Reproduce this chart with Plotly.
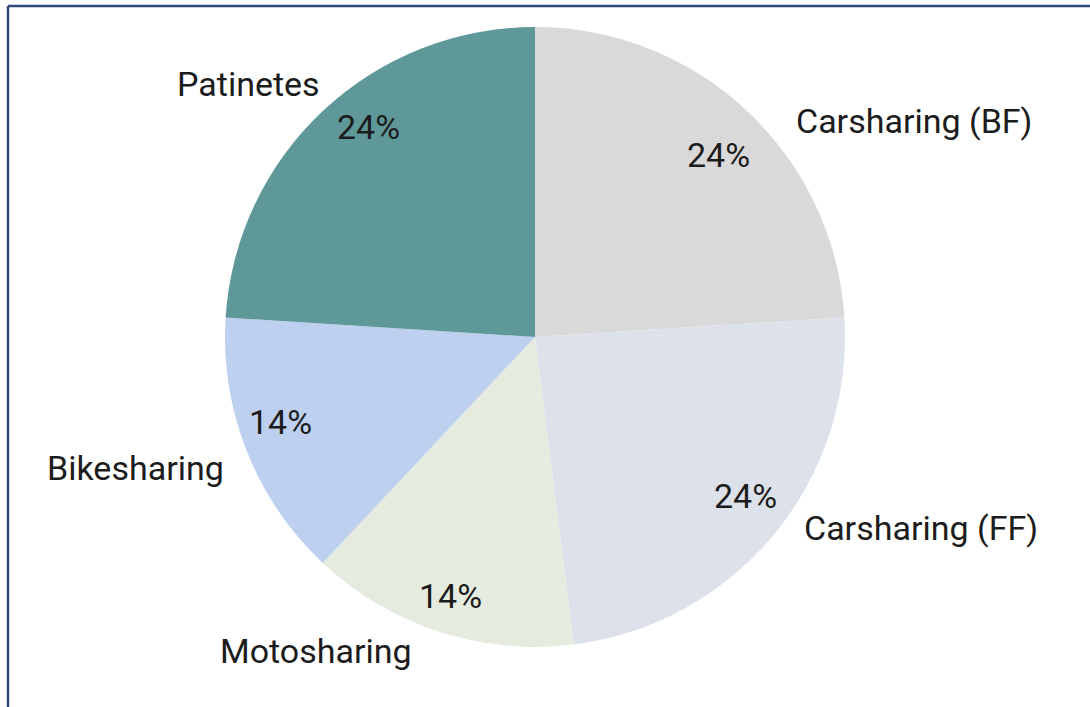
import math
import plotly.graph_objects as go

# ---- data ----
categories = ["Carsharing (BF)", "Carsharing (FF)", "Motosharing", "Bikesharing", "Patinetes"]
shares = [24, 24, 14, 14, 24]
colors = ["#d9d9d9", "#dce1ea", "#e5ecdf", "#bdd0f0", "#5f9898"]

# ---- layout / style ----
W, H = 1090, 707
CX, CY, R = 535, 337, 310            # pie centre and radius in pixels
PCT_RADIUS = 0.85                     # percent labels, fraction of radius
# small pixel nudges for the percent labels (x, y)
PCT_NUDGE = [(3, 10), (7, -9), (-3, 8), (-10, -12), (14, -18)]
# outside name label centres, pixel offsets from the pie centre
NAME_OFFSETS = [(379, -216), (386, 191), (-219, 314), (-400, 131), (-287, -253)]
FONT = "Roboto"
TEXT_COLOR = "#1c1c1c"
FS = 34


def px(x):
    return x / W


def py(y):
    return 1 - y / H


fig = go.Figure(go.Pie(
    labels=categories,
    values=shares,
    sort=False,
    direction="clockwise",
    rotation=0,
    marker=dict(colors=colors, line=dict(width=0)),
    textinfo="none",
    hoverinfo="label+percent",
    showlegend=False,
    domain=dict(x=[px(CX - R), px(CX + R)], y=[py(CY + R), py(CY - R)]),
))

annotations = []
total = sum(shares)
cum = 0
for name, v, (dx, dy), (nx, ny) in zip(categories, shares, NAME_OFFSETS, PCT_NUDGE):
    mid = (cum + v / 2) / total * 2 * math.pi
    cum += v
    x = CX + PCT_RADIUS * R * math.sin(mid) + nx
    y = CY - PCT_RADIUS * R * math.cos(mid) + ny
    pct = f"{round(v / total * 100)}%"
    annotations.append(dict(x=px(x), y=py(y), xref="paper", yref="paper", text=pct,
                            showarrow=False, xanchor="center", yanchor="middle",
                            font=dict(family=FONT, size=FS, color=TEXT_COLOR)))
    annotations.append(dict(x=px(CX + dx), y=py(CY + dy), xref="paper", yref="paper", text=name,
                            showarrow=False, xanchor="center", yanchor="middle",
                            font=dict(family=FONT, size=FS, color=TEXT_COLOR)))

fig.update_layout(
    width=W, height=H,
    margin=dict(l=0, r=0, t=0, b=0),
    paper_bgcolor="white",
    plot_bgcolor="white",
    annotations=annotations,
    shapes=[
        dict(type="line", xref="paper", yref="paper", x0=px(8), x1=1, y0=py(6), y1=py(6),
             line=dict(color="#2f4b7c", width=2.5)),
        dict(type="line", xref="paper", yref="paper", x0=px(8), x1=px(8), y0=py(6), y1=0,
             line=dict(color="#2f4b7c", width=2.5)),
    ],
)

fig.write_html(
    "out.html",
    config={"displayModeBar": False},
    post_script="document.body.style.margin='0';document.body.style.overflow='hidden';",
)
